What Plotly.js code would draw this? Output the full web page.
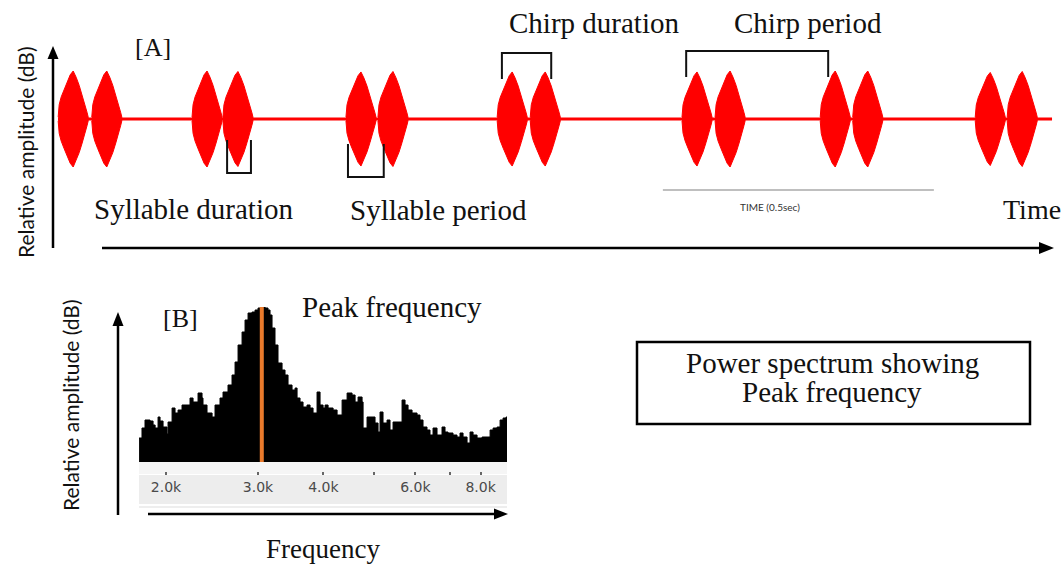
<!DOCTYPE html>
<html>
<head>
<meta charset="utf-8">
<script src="https://cdn.plot.ly/plotly-3.0.1.min.js"></script>
<style>html,body{margin:0;padding:0;background:#fff;}#chart{width:1064px;height:566px;}</style>
</head>
<body>
<div id="chart"></div>
<script>
// ---------- DATA ----------
// Panel A: oscillogram (time in seconds)
const syllablePeakTimes = [0.028, 0.090, 0.275, 0.332, 0.559, 0.618, 0.838, 0.899, 1.179, 1.240, 1.434, 1.494, 1.720, 1.779];
const syllableAmplitudes = [1.00, 1.00, 1.00, 0.99, 0.98, 0.99, 0.98, 0.98, 0.98, 1.00, 1.00, 1.00, 0.97, 0.99];
const envelopeOffsets = [-0.0277, -0.0258, -0.0221, -0.0166, -0.0111, -0.0055, 0, 0.0055, 0.0111, 0.0166, 0.0221, 0.0258, 0.0277];
const envelopeShape   = [0.04, 0.30, 0.46, 0.62, 0.78, 0.92, 1.00, 0.87, 0.70, 0.50, 0.30, 0.13, 0.04];
const recordingSpan = [0, 1.834];
const syllableDurationInterval = [0.312, 0.356];
const syllablePeriodInterval = [0.535, 0.601];
const chirpDurationInterval = [0.819, 0.910];
const chirpPeriodInterval = [1.159, 1.421];
const scaleBarStart = 1.116;
const scaleBarLength = 0.5;

// Panel B: power spectrum
const freqHz = [1776,1799,1823,1864,1889,1906,1931,1948,1974,2009,2018,2054,2081,2109,2146,2194,2223,2253,2303,2344,2354,2396,2450,2482,2537,2571,2628,2675,2711,2747,2796,2833,2871,2922,2961,3000,3053,3094,3135,3163,3191,3233,3276,3335,3379,3424,3485,3532,3563,3610,3658,3723,3773,3823,3891,3943,3996,4031,4085,4176,4250,4345,4442,4540,4601,4662,4745,4766,4850,4958,5024,5091,5136,5204,5297,5367,5439,5560,5659,5734,5811,5914,6046,6125,6207,6317,6401,6487,6602,6749,6839,6930,7084,7210,7306,7404,7536,7636,7738,7876,8052,8231,8341,8453,8603,8717,8833,8951,9000];
const relAmp = [24,34,42,41,37,34,45,41,35,28,40,54,49,52,57,57,64,60,69,64,57,49,45,57,64,70,77,87,100,117,130,142,149,150,152,154,155,154,152,147,134,117,99,92,87,77,72,74,64,60,55,57,54,49,70,57,54,57,54,52,47,62,69,67,60,65,60,34,45,45,39,30,50,39,42,32,40,40,62,57,52,49,47,42,35,32,27,34,27,35,30,29,27,25,29,25,19,30,27,24,25,25,32,34,35,42,44,45,45];
const peakFrequencyHz = 3050;
const freqTickVals = [2000, 3000, 4000, 5000, 6000, 7000, 8000];
const freqTickText = ['2.0k', '3.0k', '4.0k', '', '6.0k', '', '8.0k'];

// ---------- BUILD ----------
const W = 1064, H = 566;
const px = v => v / W;
const py = v => 1 - v / H;

// Envelope polygons for syllables
const envX = [], envY = [];
syllablePeakTimes.forEach((t, i) => {
  const a = syllableAmplitudes[i];
  for (let k = 0; k < envelopeOffsets.length; k++) { envX.push(t + envelopeOffsets[k]); envY.push(a * envelopeShape[k]); }
  for (let k = envelopeOffsets.length - 1; k >= 0; k--) { envX.push(t + envelopeOffsets[k]); envY.push(-a * envelopeShape[k]); }
  envX.push(null); envY.push(null);
});

const traces = [
  { x: recordingSpan, y: [0, 0], xaxis: 'x', yaxis: 'y', mode: 'lines', line: { color: '#ff0000', width: 3 }, hoverinfo: 'skip' },
  { x: envX, y: envY, xaxis: 'x', yaxis: 'y', mode: 'lines', fill: 'toself', fillcolor: '#ff0000', line: { color: '#ff0000', width: 1 }, hoverinfo: 'skip' },
  { x: freqHz, y: relAmp, xaxis: 'x2', yaxis: 'y2', mode: 'lines', line: { shape: 'hv', color: '#000', width: 1 }, fill: 'tozeroy', fillcolor: '#000', hoverinfo: 'skip' }
];

const serif = 'Liberation Serif, Times New Roman, serif';
const txtColor = '#111';
function ann(text, x, y, size, opts) {
  return Object.assign({ text, x: px(x), y: py(y), xref: 'paper', yref: 'paper', showarrow: false, xanchor: 'center', yanchor: 'middle',
    font: { family: serif, size, color: txtColor } }, opts || {});
}

const annotations = [
  ann('[A]', 153, 47, 26),
  ann('Chirp duration', 594, 23, 29),
  ann('Chirp period', 808, 23, 29),
  ann('Syllable duration', 193, 209, 29),
  ann('Syllable period', 438, 210, 29),
  ann('Time', 1032, 210, 28),
  ann('TIME (0.5sec)', 770, 207, 10, { font: { family: 'Lato, sans-serif', size: 10, color: '#333' } }),
  ann('Relative amplitude (dB)', 25, 152, 21, { textangle: -90, font: { family: 'Lato, sans-serif', size: 21, color: '#111' } }),
  ann('[B]', 180, 318, 26),
  ann('Peak frequency', 392, 307, 29),
  ann('Frequency', 323, 549, 27),
  ann('Relative amplitude (dB)', 70, 405, 21, { textangle: -90, font: { family: 'Lato, sans-serif', size: 21, color: '#111' } }),
  ann('Power spectrum showing', 832, 363, 29),
  ann('Peak frequency', 832, 392, 29)
];

function tri(p) { // pixel points -> paper path
  return 'M ' + p.map(q => px(q[0]) + ',' + py(q[1])).join(' L ') + ' Z';
}
const blk = '#000';
function bracketDown(iv, yTop, yBot) {
  return { type: 'path', xref: 'x', yref: 'paper', line: { color: '#111', width: 2 },
    path: `M ${iv[0]},${py(yTop)} L ${iv[0]},${py(yBot)} L ${iv[1]},${py(yBot)} L ${iv[1]},${py(yTop)}` };
}

const shapes = [
  // Panel A axes
  { type: 'line', xref: 'paper', yref: 'paper', x0: px(53), x1: px(53), y0: py(248), y1: py(56), line: { color: blk, width: 2.5 } },
  { type: 'path', xref: 'paper', yref: 'paper', path: tri([[53, 46], [47.5, 59], [58.5, 59]]), fillcolor: blk, line: { width: 0 } },
  { type: 'line', xref: 'paper', yref: 'paper', x0: px(102), x1: px(1042), y0: py(248), y1: py(248), line: { color: blk, width: 2.5 } },
  { type: 'path', xref: 'paper', yref: 'paper', path: tri([[1054, 248], [1039, 242], [1039, 254]]), fillcolor: blk, line: { width: 0 } },
  // Time scale bar
  { type: 'line', xref: 'x', yref: 'paper', x0: scaleBarStart, x1: scaleBarStart + scaleBarLength, y0: py(190), y1: py(190), line: { color: '#aaaaaa', width: 1.5 } },
  // Brackets
  bracketDown(syllableDurationInterval, 140, 173),
  bracketDown(syllablePeriodInterval, 144, 177),
  bracketDown(chirpDurationInterval, 79, 53),
  bracketDown(chirpPeriodInterval, 77, 51),
  // Panel B axis strip
  { type: 'rect', xref: 'paper', yref: 'paper', x0: px(139), x1: px(507), y0: py(474), y1: py(462), fillcolor: '#f5f5f5', line: { width: 0 }, layer: 'below' },
  { type: 'rect', xref: 'paper', yref: 'paper', x0: px(139), x1: px(507), y0: py(504), y1: py(475), fillcolor: '#ededed', line: { width: 0 }, layer: 'below' },
  { type: 'line', xref: 'paper', yref: 'paper', x0: px(139), x1: px(507), y0: py(507), y1: py(507), line: { color: '#dddddd', width: 1 }, layer: 'below' },
  // Peak frequency marker
  { type: 'line', xref: 'x2', yref: 'y2', x0: peakFrequencyHz, x1: peakFrequencyHz, y0: 0, y1: 156, line: { color: '#ea7a2c', width: 4 } },
  // Panel B arrows
  { type: 'line', xref: 'paper', yref: 'paper', x0: px(118), x1: px(118), y0: py(515), y1: py(322), line: { color: blk, width: 2.5 } },
  { type: 'path', xref: 'paper', yref: 'paper', path: tri([[118, 312], [112.5, 326], [123.5, 326]]), fillcolor: blk, line: { width: 0 } },
  { type: 'line', xref: 'paper', yref: 'paper', x0: px(148), x1: px(497), y0: py(514), y1: py(514), line: { color: blk, width: 2.5 } },
  { type: 'path', xref: 'paper', yref: 'paper', path: tri([[508, 514], [494, 508.5], [494, 519.5]]), fillcolor: blk, line: { width: 0 } },
  // Box
  { type: 'rect', xref: 'paper', yref: 'paper', x0: px(637), x1: px(1030), y0: py(424), y1: py(342), line: { color: blk, width: 2.5 } }
];

const layout = {
  width: W, height: H,
  margin: { l: 0, r: 0, t: 0, b: 0 },
  paper_bgcolor: '#fff', plot_bgcolor: 'rgba(0,0,0,0)',
  showlegend: false,
  xaxis: { domain: [0, 1], range: [-58 / 542, 1006 / 542], visible: false, fixedrange: true },
  yaxis: { domain: [0, 1], range: [-447 / 48, 119 / 48], visible: false, fixedrange: true },
  xaxis2: { type: 'log', domain: [px(139), px(507)], range: [3.2493, 3.9536], anchor: 'free', position: py(471),
    showgrid: false, zeroline: false, showline: false, ticks: 'outside', ticklen: 3, tickwidth: 2, tickcolor: '#666',
    tickvals: freqTickVals, ticktext: freqTickText, tickangle: 0,
    tickfont: { family: 'DejaVu Sans, sans-serif', size: 14, color: '#4a4a4a' }, fixedrange: true },
  yaxis2: { domain: [py(462), py(307)], range: [0, 155], anchor: 'x2', visible: false, fixedrange: true },
  shapes, annotations
};

Plotly.newPlot('chart', traces, layout, { displayModeBar: false, staticPlot: true });
</script>
</body>
</html>
